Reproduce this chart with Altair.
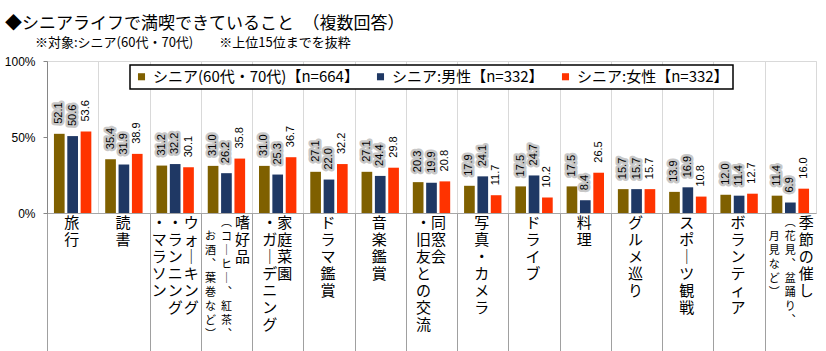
import altair as alt
import pandas as pd

categories = [
    "旅行", "読書", "ウォーキング・ランニング・マラソン",
    "嗜好品（コーヒー、紅茶、お酒、葉巻など）", "家庭菜園・ガーデニング",
    "ドラマ鑑賞", "音楽鑑賞", "同窓会・旧友との交流", "写真・カメラ",
    "ドライブ", "料理", "グルメ巡り", "スポーツ観戦", "ボランティア",
    "季節の催し（花見、盆踊り、月見など）",
]
series = ["シニア(60代・70代)【n=664】", "シニア:男性【n=332】", "シニア:女性【n=332】"]
colors = ["#7F6000", "#1F3864", "#FF3300"]

values_all = [52.1, 35.4, 31.2, 31.0, 31.0, 27.1, 27.1, 20.3, 17.9, 17.5, 17.5, 15.7, 13.9, 12.0, 11.4]
values_male = [50.6, 31.9, 32.2, 26.2, 25.3, 22.0, 24.4, 19.9, 24.1, 24.7, 8.4, 15.7, 16.9, 11.4, 6.9]
values_female = [53.6, 38.9, 30.1, 35.8, 36.7, 32.2, 29.8, 20.8, 11.7, 10.2, 26.5, 15.7, 10.8, 12.7, 16.0]

# vertical label columns (right to left)
label_main_cols = [
    ["旅行"], ["読書"], ["ウォーキング", "・ランニング", "・マラソン"], ["嗜好品"],
    ["家庭菜園", "・ガーデニング"], ["ドラマ鑑賞"], ["音楽鑑賞"], ["同窓会", "・旧友との交流"],
    ["写真・カメラ"], ["ドライブ"], ["料理"], ["グルメ巡り"], ["スポーツ観戦"],
    ["ボランティア"], ["季節の催し"],
]
label_sub_cols = [
    [], [], [], ["（コーヒー、紅茶、", "お酒、葉巻など）"], [], [], [], [], [], [], [], [], [], [],
    ["（花見、盆踊り、", "月見など）"],
]

FONT_JP = "Noto Sans CJK JP"
VMAP = {"ー": "｜", "、": "︑", "（": "︵", "）": "︶"}


def vertical(s):
    return "\n".join(VMAP.get(c, c) for c in s)


rows = []
for i, c in enumerate(categories):
    for s, vals in zip(series, [values_all, values_male, values_female]):
        rows.append({"cat": c, "series": s, "value": vals[i]})
bars_df = pd.DataFrame(rows)

OFFSETS = {1: [-1], 2: [7, -8], 3: [16, 0, -16]}
label_rows = []
for i, c in enumerate(categories):
    main = label_main_cols[i]
    sub = label_sub_cols[i]
    k = len(main) + len(sub)
    offs = OFFSETS[k]
    j = 0
    for col in main:
        label_rows.append({"cat": c, "text": vertical(col), "dx": offs[j], "small": False, "dy": 3})
        j += 1
    for si, col in enumerate(sub):
        label_rows.append({"cat": c, "text": vertical(col), "dx": offs[j], "small": True, "dy": 4 + 14 * si})
        j += 1
labels_df = pd.DataFrame(label_rows)

x_enc = alt.X(
    "cat:N", sort=categories,
    scale=alt.Scale(domain=categories, paddingInner=0, paddingOuter=0),
    axis=alt.Axis(
        title=None, labels=False, tickBand="extent", ticks=True, tickSize=138,
        tickDash=[1, 1], tickColor="#404040", tickWidth=1,
        tickOpacity={"condition": {"test": "datum.index == 0 || datum.index == 1", "value": 0}, "value": 1},
        grid=True, gridColor="#d9d9d9", domainColor="#a6a6a6",
    ),
)
y_scale = alt.Scale(domain=[0, 100], nice=False)
y_axis = alt.Axis(
    values=[0, 50, 100], labelExpr="datum.value + '%'", labelFontSize=12,
    labelFont="Liberation Sans", labelColor="black", tickSize=4, tickColor="#868686",
    domainColor="#868686", grid=False, title=None, labelPadding=8,
)
xoff = alt.XOffset("series:N", sort=series,
                   scale=alt.Scale(domain=series, paddingInner=0.2, paddingOuter=0.52))

bars = alt.Chart(bars_df).mark_bar().encode(
    x=x_enc,
    xOffset=xoff,
    y=alt.Y("value:Q", scale=y_scale, axis=y_axis),
    color=alt.Color(
        "series:N", scale=alt.Scale(domain=series, range=colors),
        legend=alt.Legend(
            orient="none", legendX=83, legendY=4, direction="horizontal", title=None,
            symbolType="square", symbolSize=50, symbolStrokeWidth=0,
            labelFontSize=15, labelFont=FONT_JP, labelColor="black", labelLimit=400,
            strokeColor="black", fillColor="white", padding=4,
            columnPadding=14, labelOffset=4,
        ),
    ),
)

val_enc = dict(
    x=x_enc, xOffset=xoff,
    y=alt.Y("value:Q", scale=y_scale, axis=y_axis),
    text=alt.Text("value:Q", format=".1f"),
)
halo = alt.Chart(bars_df).transform_filter(
    alt.FieldOneOfPredicate(field="series", oneOf=series[:2])
).mark_text(
    angle=270, align="left", baseline="middle", dx=10, fontSize=11,
    font="Liberation Sans", color="#c8c8c8", stroke="#c8c8c8", strokeWidth=5, strokeJoin="round",
).encode(**val_enc)
vals = alt.Chart(bars_df).mark_text(
    angle=270, align="left", baseline="middle", dx=10, fontSize=11,
    font="Liberation Sans", color="black",
).encode(**val_enc)

layers = [bars, halo, vals]
for (dx, dy, small), g in labels_df.groupby(["dx", "dy", "small"]):
    layers.append(
        alt.Chart(g.reset_index(drop=True)).mark_text(
            font=FONT_JP, fontSize=11 if small else 15, lineHeight=14 if small else 17,
            baseline="top", align="center", lineBreak="\n", dx=int(dx), dy=int(dy), color="black",
        ).encode(
            x=x_enc,
            y=alt.Y(datum=0, scale=y_scale, axis=y_axis),
            text="text:N",
        )
    )

chart = alt.layer(*layers).properties(
    width=769, height=152,
    autosize=alt.AutoSizeParams(type="none"),
    padding={"left": 47, "top": 61, "right": 10, "bottom": 138},
    title=alt.Title(
        text="◆シニアライフで満喫できていること　（複数回答）",
        subtitle="\u2800\u2800\u2800※対象:シニア(60代・70代)　　※上位15位までを抜粋",
        anchor="start", frame="group", dx=-42, offset=4,
        font=FONT_JP, fontSize=17, fontWeight="normal", color="black",
        subtitleFont=FONT_JP, subtitleFontSize=13, subtitleColor="black", subtitlePadding=4,
    ),
).configure_view(stroke="#d9d9d9").configure_legend(strokeWidth=1.5)

chart.save("out.html", embed_options={"renderer": "svg", "actions": False})
